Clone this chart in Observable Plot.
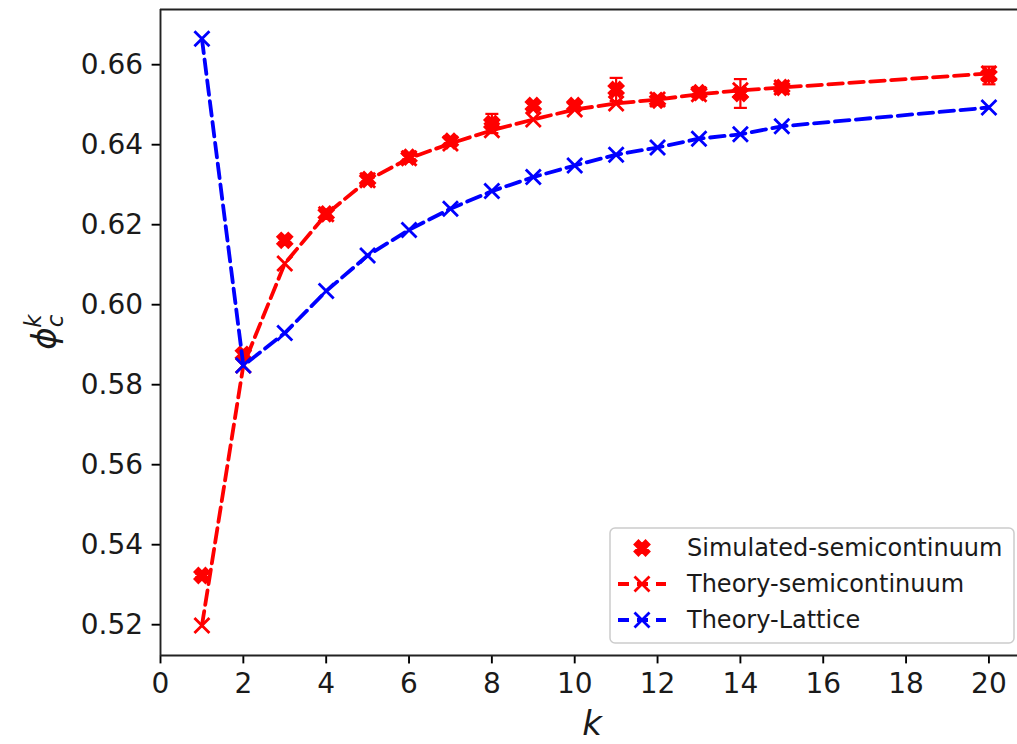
<!DOCTYPE html>
<html>
<head>
<meta charset="utf-8">
<script src="https://cdn.jsdelivr.net/npm/d3@7"></script>
<script src="https://cdn.jsdelivr.net/npm/@observablehq/plot@0.6"></script>
<style>
  html, body { margin: 0; padding: 0; background: #fff; overflow: hidden; }
  svg { display: block; }
</style>
</head>
<body>
<div id="chart"></div>
<script>
// ---- data ----
const kValues        = [1, 2, 3, 4, 5, 6, 7, 8, 9, 10, 11, 12, 13, 14, 15, 20];
const simulated      = [0.5323, 0.5876, 0.6161, 0.6227, 0.6313, 0.6369, 0.6409, 0.6453, 0.6498, 0.6498, 0.6538, 0.6511, 0.6530, 0.6528, 0.6543, 0.6573];
const simulatedErr   = [0.0004, 0.0010, 0.0005, 0.0008, 0.0006, 0.0006, 0.0006, 0.0024, 0.0009, 0.0007, 0.0029, 0.0006, 0.0004, 0.0036, 0.0006, 0.0022];
const theorySemi     = [0.5198, 0.5848, 0.6103, 0.6226, 0.6311, 0.6366, 0.6403, 0.6436, 0.6463, 0.6488, 0.6503, 0.6513, 0.6526, 0.6536, 0.6543, 0.6578];
const theoryLattice  = [0.6665, 0.5848, 0.5929, 0.6034, 0.6123, 0.6187, 0.6240, 0.6284, 0.6319, 0.6348, 0.6375, 0.6393, 0.6415, 0.6426, 0.6446, 0.6493];
const xTicks = [0, 2, 4, 6, 8, 10, 12, 14, 16, 18, 20];
const yTicks = [0.52, 0.54, 0.56, 0.58, 0.60, 0.62, 0.64, 0.66];
const xDomain = [0, 20.69];
const yDomain = [0.5123, 0.6738];
const seriesNames = ["Simulated-semicontinuum", "Theory-semicontinuum", "Theory-Lattice"];
const seriesColors = ["#ff0000", "#ff0000", "#0000ff"];

const simData = kValues.map((k, i) => ({k, y: simulated[i], e: simulatedErr[i]}));
const semiData = kValues.map((k, i) => ({k, y: theorySemi[i]}));
const latData = kValues.map((k, i) => ({k, y: theoryLattice[i]}));

// ---- custom matplotlib-like marker symbols ----
const symXFilled = {
  draw(ctx, size) {
    const L = Math.sqrt(size / Math.PI), w = L / 3;
    const pts = [[w, L], [w, w], [L, w], [L, -w], [w, -w], [w, -L], [-w, -L], [-w, -w], [-L, -w], [-L, w], [-w, w], [-w, L]];
    const c = Math.SQRT1_2;
    pts.forEach(([u, v], i) => {
      const x = (u - v) * c, y = (u + v) * c;
      if (i === 0) ctx.moveTo(x, y); else ctx.lineTo(x, y);
    });
    ctx.closePath();
  }
};
const symTimes = {
  draw(ctx, size) {
    const r = Math.sqrt(size / Math.PI);
    ctx.moveTo(-r, -r); ctx.lineTo(r, r);
    ctx.moveTo(-r, r); ctx.lineTo(r, -r);
  }
};
const symCap = {
  draw(ctx, size) {
    const r = Math.sqrt(size / Math.PI);
    ctx.moveTo(-r, 0); ctx.lineTo(r, 0);
  }
};

const LW = 3.8, DASH = "14.5,6.5";
const FONT = "DejaVu Sans, sans-serif";
const TICK_FS = 28;

const plot = Plot.plot({
  width: 1017,
  height: 744,
  marginLeft: 160,
  marginRight: 0,
  marginTop: 9,
  marginBottom: 89,
  style: {fontFamily: FONT, fontSize: "28px", color: "#000", background: "#fff"},
  x: {domain: xDomain, label: null},
  y: {domain: yDomain, label: null},
  marks: [
    Plot.axisX(xTicks, {tickSize: 8.4, tickPadding: 9, strokeWidth: 1.9, stroke: "#000", fontSize: TICK_FS, fill: "#1a1a1a", label: null, tickFormat: d => String(d)}),
    Plot.axisY(yTicks, {tickSize: 8.4, tickPadding: 9, strokeWidth: 1.9, stroke: "#000", fontSize: TICK_FS, fill: "#1a1a1a", label: null, tickFormat: d3.format(".2f")}),
    // spines
    Plot.ruleX([xDomain[0]], {stroke: "#222", strokeWidth: 1.9}),
    Plot.ruleY(yDomain, {stroke: "#222", strokeWidth: 1.9}),
    // simulated with error bars
    Plot.ruleX(simData, {x: "k", y1: d => d.y - d.e, y2: d => d.y + d.e, stroke: seriesColors[0], strokeWidth: 2.2}),
    Plot.dot(simData, {x: "k", y: d => d.y - d.e, symbol: symCap, r: 6.5, stroke: seriesColors[0], strokeWidth: 2.2, fill: "none"}),
    Plot.dot(simData, {x: "k", y: d => d.y + d.e, symbol: symCap, r: 6.5, stroke: seriesColors[0], strokeWidth: 2.2, fill: "none"}),
    Plot.dot(simData, {x: "k", y: "y", symbol: symXFilled, r: 7.5, fill: seriesColors[0], stroke: seriesColors[0], strokeWidth: 2.6}),
    // theory semicontinuum
    Plot.line(semiData, {x: "k", y: "y", stroke: seriesColors[1], strokeWidth: LW, strokeDasharray: DASH}),
    Plot.dot(semiData, {x: "k", y: "y", symbol: symTimes, r: 7.5, stroke: seriesColors[1], strokeWidth: 2.8, fill: "none"}),
    // theory lattice
    Plot.line(latData, {x: "k", y: "y", stroke: seriesColors[2], strokeWidth: LW, strokeDasharray: DASH}),
    Plot.dot(latData, {x: "k", y: "y", symbol: symTimes, r: 7.5, stroke: seriesColors[2], strokeWidth: 2.8, fill: "none"})
  ]
});

document.getElementById("chart").appendChild(plot);

// ---- axis titles and legend ----
const svg = d3.select(plot);

svg.append("text")
  .attr("x", 592).attr("y", 735)
  .attr("text-anchor", "middle")
  .attr("font-family", FONT).attr("font-size", 34).attr("font-style", "italic").attr("fill", "#1a1a1a")
  .text("k");

const yl = svg.append("text")
  .attr("transform", "translate(56,332) rotate(-90)")
  .attr("text-anchor", "middle")
  .attr("font-family", FONT).attr("font-size", 34).attr("font-style", "italic").attr("fill", "#1a1a1a");
yl.append("tspan").text("ϕ");
yl.append("tspan").attr("font-size", 23).attr("dy", 7).text("c");
yl.append("tspan").attr("font-size", 23).attr("dx", -13).attr("dy", -22).text("k");

const lg = svg.append("g").attr("text-anchor", "start");
lg.append("rect")
  .attr("x", 610).attr("y", 528).attr("width", 404).attr("height", 115).attr("rx", 5)
  .attr("fill", "#fff").attr("fill-opacity", 0.8).attr("stroke", "#cccccc").attr("stroke-width", 1.5);
const rowsY = [548, 584, 620];
const sym = (type, r) => d3.symbol(type, Math.PI * r * r)();
seriesNames.forEach((name, i) => {
  const y = rowsY[i];
  if (i === 0) {
    lg.append("path").attr("d", sym(symXFilled, 7.5)).attr("transform", `translate(642,${y})`)
      .attr("fill", seriesColors[i]).attr("stroke", seriesColors[i]).attr("stroke-width", 2.6);
  } else {
    lg.append("line").attr("x1", 618).attr("x2", 666).attr("y1", y).attr("y2", y)
      .attr("stroke", seriesColors[i]).attr("stroke-width", LW).attr("stroke-dasharray", "11,8");
    lg.append("path").attr("d", sym(symTimes, 7.5)).attr("transform", `translate(642,${y})`)
      .attr("fill", "none").attr("stroke", seriesColors[i]).attr("stroke-width", 2.8);
  }
  lg.append("text").attr("x", 687).attr("y", y).attr("dy", "0.35em")
    .attr("text-anchor", "start")
    .attr("font-family", FONT).attr("font-size", 24).attr("fill", "#1a1a1a")
    .text(name);
});
</script>
</body>
</html>
